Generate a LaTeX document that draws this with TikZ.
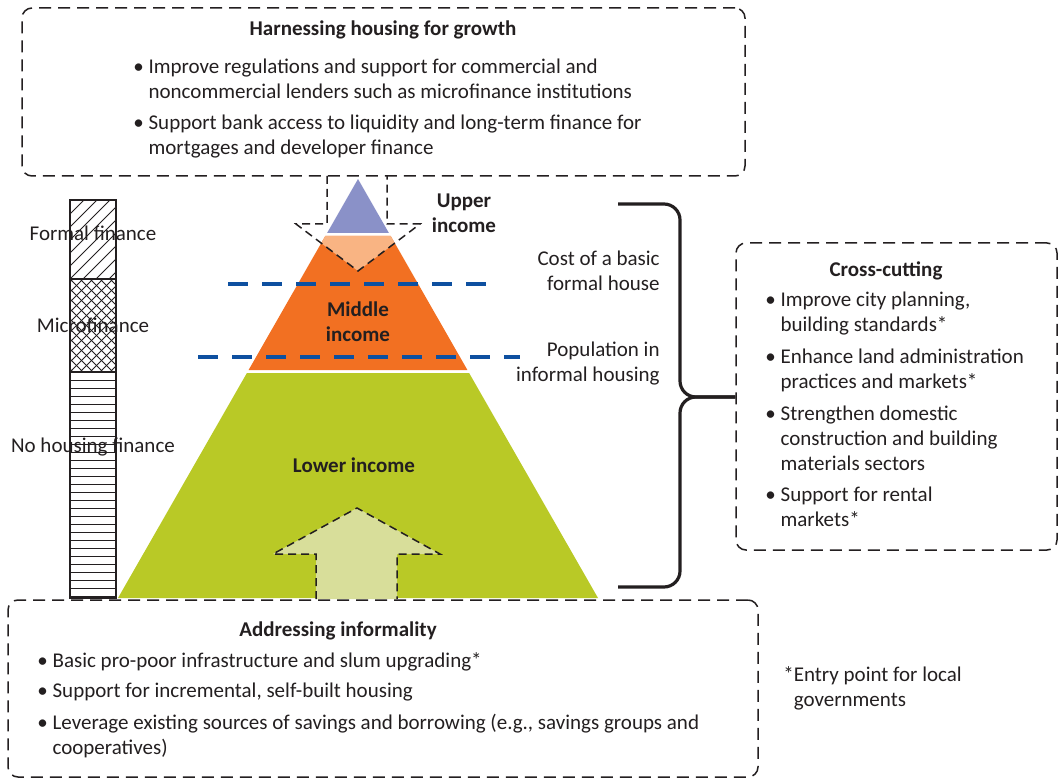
\documentclass[tikz,border=0pt]{standalone}
\usepackage{fontspec}
\setmainfont{Carlito}
\usetikzlibrary{positioning,fit}
\definecolor{upperc}{RGB}{138,145,200}
\definecolor{peachc}{RGB}{249,180,131}
\definecolor{midc}{RGB}{242,112,34}
\definecolor{lowc}{RGB}{185,201,38}
\definecolor{arrowc}{RGB}{216,222,154}
\definecolor{linec}{RGB}{14,80,160}
\definecolor{txtc}{RGB}{35,31,32}
\newcommand{\hang}{\phantom{\textbullet\ }}

\begin{document}
\begin{tikzpicture}[x=0.5pt,y=-0.5pt,font=\fontsize{10.5}{12.5}\selectfont,text=txtc,
  dbox/.style={draw=txtc,line width=0.75pt,dash pattern=on 6pt off 3.5pt,rounded corners=5pt,inner sep=0pt},
  ttl/.style={font=\fontsize{10.5}{12.5}\selectfont\bfseries},
  blist/.style={align=left,anchor=north west,inner sep=0pt},
  lvl/.style={font=\fontsize{10.5}{12.5}\selectfont\bfseries,align=center,inner sep=0pt},
  side/.style={align=right,anchor=east,inner sep=0pt},
  cut/.style={draw=linec,line width=2pt,dash pattern=on 10pt off 7pt},
  blk/.style={draw=txtc,line width=0.75pt,dash pattern=on 4pt off 2.5pt},
  hl/.style={draw=txtc,line width=0.45pt},
  brace/.style={draw=txtc,line width=1.6pt,rounded corners=8pt}]
\useasboundingbox (0,0) rectangle (1059,780);

% finance bar
\begin{scope}
  \clip (70,200) rectangle (116,279);
  \foreach \d in {-91,-78,...,60} \draw[hl] (70+\d,279) -- (149+\d,200);
\end{scope}
\begin{scope}
  \clip (70,279) rectangle (116,372);
  \foreach \d in {-100,-90,...,60} {
    \draw[hl] (70+\d,372) -- (163+\d,279);
    \draw[hl] (70+\d,279) -- (163+\d,372);}
\end{scope}
\foreach \y in {380,388,...,596} \draw[hl] (70,\y) -- (116,\y);
\draw[hl,line width=0.6pt] (70,200) rectangle (116,598) (70,279) -- (116,279) (70,372) -- (116,372);
\node (formal) at (93,233) {Formal finance};
\node (micro) at (93,325) {Microfinance};
\node (nofin) at (93,447) {No housing finance};

% pyramid
\fill[lowc] (246.9,373) -- (469.1,373) -- (598,598) -- (118,598) -- cycle;
\fill[midc] (325.3,236) -- (390.7,236) -- (467.4,370) -- (248.6,370) -- cycle;
\begin{scope}
  \clip (325.3,236) -- (390.7,236) -- (467.4,370) -- (248.6,370) -- cycle;
  \fill[peachc] (327,170) -- (327,224) -- (296,224) -- (358,271) -- (420,224) -- (387,224) -- (387,170) -- cycle;
\end{scope}
\fill[upperc] (358,179) -- (388.9,233) -- (327.1,233) -- cycle;
\draw[blk] (327,176) -- (327,224) -- (296,224) -- (358,271) -- (420,224) -- (387,224) -- (387,176);
\fill[arrowc] (316,599) -- (316,554) -- (273,554) -- (357,508) -- (440,554) -- (397,554) -- (397,599) -- cycle;
\draw[blk] (316,599) -- (316,554) -- (273,554) -- (357,508) -- (440,554) -- (397,554) -- (397,599);

% cut-off lines
\draw[cut] (228,284) -- (498,284);
\draw[cut] (198,357) -- (520,357);

\node[lvl] (upper) at (464,213) {Upper\\income};
\node[lvl] (middle) at (358,322) {Middle\\income};
\node[lvl] (lower) at (354,465) {Lower income};
\node[side] (cost) at (660,271) {Cost of a basic\\formal house};
\node[side] (popinf) at (660,364) {Population in\\informal housing};

% policy boxes
\node[dbox,fit={(22,8)(745,176)}] (grow) {};
\node[ttl] (growT) at (383,30) {Harnessing housing for growth};
\node[blist] (growL) at (133,59) {\textbullet\ Improve regulations and support for commercial and\\
\hang noncommercial lenders such as microfinance institutions\\[3pt]
\textbullet\ Support bank access to liquidity and long-term finance for\\
\hang mortgages and developer finance};

\node[dbox,fit={(736,243)(1057,550)}] (cross) {};
\node[ttl] (crossT) at (886,271) {Cross-cutting};
\node[blist] (crossL) at (765,292) {\textbullet\ Improve city planning,\\
\hang building standards*\\[3.5pt]
\textbullet\ Enhance land administration\\
\hang practices and markets*\\[3.5pt]
\textbullet\ Strengthen domestic\\
\hang construction and building\\
\hang materials sectors\\[3pt]
\textbullet\ Support for rental\\
\hang markets*};

\node[dbox,fit={(8,600)(758,777)}] (inform) {};
\node[ttl] (informT) at (338,631) {Addressing informality};
\node[blist] (informL) at (37,652) {\textbullet\ Basic pro-poor infrastructure and slum upgrading*\\[2.5pt]
\textbullet\ Support for incremental, self-built housing\\[3.5pt]
\textbullet\ Leverage existing sources of savings and borrowing (e.g., savings groups and\\
\hang cooperatives)};

\node[align=left,anchor=west,inner sep=0pt] (note) at (783,688) {*Entry point for local\\\phantom{*}governments};

% brace to cross-cutting
\coordinate (btop) at (618,204);
\coordinate (bbot) at (618,587);
\coordinate (btip) at (cross.west |- 0,397);
\draw[brace] (btop) -- (680,204) -- (680,397) -- (btip);
\draw[brace] (bbot) -- (680,587) -- (680,397) -- (btip);
\end{tikzpicture}
\end{document}
